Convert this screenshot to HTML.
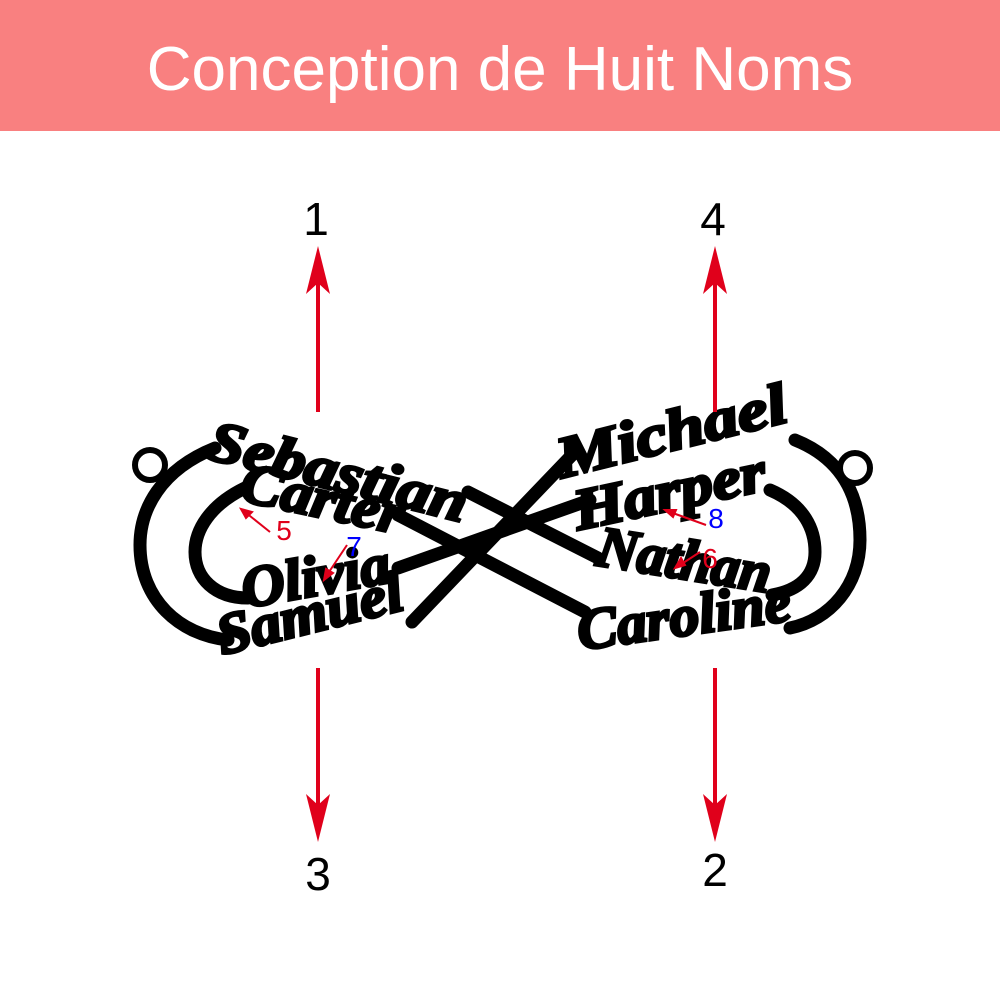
<!DOCTYPE html>
<html><head><style>
body{margin:0;width:1000px;height:1000px;background:#fff;overflow:hidden;font-family:"Liberation Sans",sans-serif}
.hd{position:absolute;left:0;top:0;width:1000px;height:131px;background:#f98080;color:#fff;font-size:62px;text-align:center;line-height:140px}
</style></head><body>
<div class="hd">Conception de Huit Noms</div>
<svg width="1000" height="1000" style="position:absolute;left:0;top:0">
<g fill="none" stroke="#000" stroke-width="13" stroke-linecap="round">
<path d="M215,448 C160,470 140,510 140,545 C140,600 180,635 228,640"/>
<path d="M245,488 C210,505 195,530 195,552 C195,578 215,598 248,598"/>
<path d="M795,440 C845,460 860,500 860,540 C860,585 830,620 790,628"/>
<path d="M770,490 C805,505 815,530 815,552 C815,575 800,590 772,595"/>
<path d="M468,492 L598,558"/>
<path d="M398,515 L585,612"/>
<path d="M398,568 L590,500"/>
<path d="M412,622 L572,455"/>
</g>
<circle cx="150" cy="465" r="15" fill="#fff" stroke="#000" stroke-width="6"/>
<circle cx="855" cy="468" r="15" fill="#fff" stroke="#000" stroke-width="6"/>
<g font-family="Liberation Serif,serif" font-style="italic" font-weight="bold" font-size="58" fill="#000" stroke="#000" stroke-width="3">
<text x="205" y="458" transform="rotate(14 205 458)" textLength="265" lengthAdjust="spacingAndGlyphs">Sebastian</text>
<text x="238" y="500" transform="rotate(12 238 500)" textLength="165" lengthAdjust="spacingAndGlyphs">Carter</text>
<text x="245" y="608" transform="rotate(-10 245 608)" textLength="150" lengthAdjust="spacingAndGlyphs">Olivia</text>
<text x="222" y="655" transform="rotate(-14 222 655)" textLength="190" lengthAdjust="spacingAndGlyphs">Samuel</text>
<text x="562" y="478" transform="rotate(-14 562 478)" textLength="235" lengthAdjust="spacingAndGlyphs">Michael</text>
<text x="578" y="530" transform="rotate(-12 578 530)" textLength="195" lengthAdjust="spacingAndGlyphs">Harper</text>
<text x="595" y="565" transform="rotate(9 595 565)" textLength="175" lengthAdjust="spacingAndGlyphs">Nathan</text>
<text x="580" y="650" transform="rotate(-8 580 650)" textLength="215" lengthAdjust="spacingAndGlyphs">Caroline</text>
</g>
<g stroke="#e0001b" stroke-width="4" fill="#e0001b">
<line x1="318" y1="280" x2="318" y2="412"/><path d="M318,246 L306,294 L318,283 L330,294Z" stroke="none"/>
<line x1="318" y1="668" x2="318" y2="810"/><path d="M318,842 L306,794 L318,805 L330,794Z" stroke="none"/>
<line x1="715" y1="280" x2="715" y2="412"/><path d="M715,246 L703,294 L715,283 L727,294Z" stroke="none"/>
<line x1="715" y1="668" x2="715" y2="810"/><path d="M715,842 L703,794 L715,805 L727,794Z" stroke="none"/>
</g>
<g stroke="#e0001b" stroke-width="2" fill="#e0001b">
<line x1="270" y1="532" x2="245" y2="512"/><path d="M241,509 L252,512 L246,518Z"/>
<line x1="347" y1="545" x2="327" y2="575"/><path d="M324,580 L326,569 L333,573Z"/>
<line x1="706" y1="525" x2="670" y2="512"/><path d="M665,510 L676,510 L673,517Z"/>
<line x1="700" y1="552" x2="680" y2="565"/><path d="M675,568 L681,558 L685,565Z"/>
</g>
<g font-family="Liberation Sans,sans-serif" font-size="46" fill="#000" text-anchor="middle">
<text x="316" y="235">1</text><text x="713" y="235">4</text>
<text x="318" y="890">3</text><text x="715" y="886">2</text>
</g>
<g font-family="Liberation Sans,sans-serif" font-size="28" text-anchor="middle">
<text x="284" y="540" fill="#e0001b">5</text>
<text x="354" y="556" fill="#0000ff">7</text>
<text x="716" y="528" fill="#0000ff">8</text>
<text x="710" y="568" fill="#e0001b">6</text>
</g>
</svg>
</body></html>
